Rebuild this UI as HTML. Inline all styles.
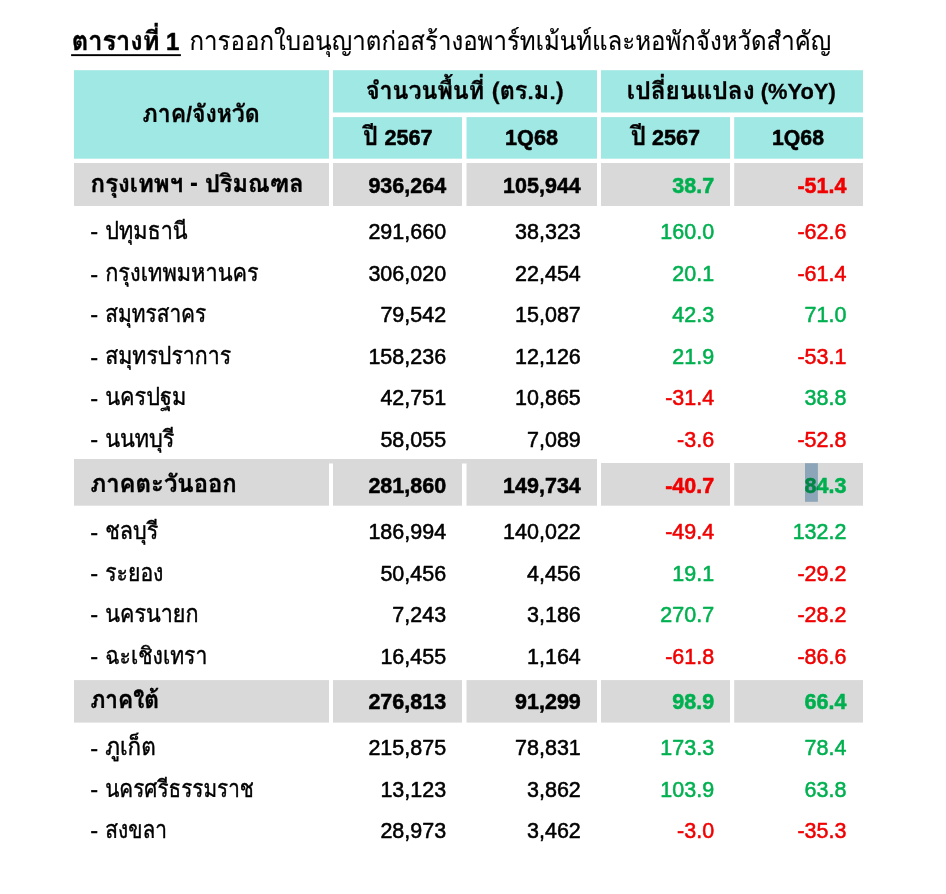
<!DOCTYPE html><html><head><meta charset="utf-8"><style>html,body{margin:0;padding:0;background:#fff}svg{display:block}</style></head><body>
<svg width="946" height="894" viewBox="0 0 946 894">
<rect x="0" y="0" width="946" height="894" fill="#fff"/>
<rect x="74" y="70.2" width="255.00" height="88.50" fill="#a0e8e4"/>
<rect x="333" y="70.2" width="264.00" height="42.30" fill="#a0e8e4"/>
<rect x="601" y="70.2" width="262.00" height="42.30" fill="#a0e8e4"/>
<rect x="333" y="117.1" width="129.00" height="41.60" fill="#a0e8e4"/>
<rect x="466.5" y="117.1" width="130.50" height="41.60" fill="#a0e8e4"/>
<rect x="601" y="117.1" width="129.00" height="41.60" fill="#a0e8e4"/>
<rect x="734.2" y="117.1" width="128.80" height="41.60" fill="#a0e8e4"/>
<rect x="74" y="163" width="255.00" height="43.00" fill="#d9d9d9"/>
<rect x="333" y="163" width="129.00" height="43.00" fill="#d9d9d9"/>
<rect x="466.5" y="163" width="130.50" height="43.00" fill="#d9d9d9"/>
<rect x="601" y="163" width="129.00" height="43.00" fill="#d9d9d9"/>
<rect x="734.2" y="163" width="128.80" height="43.00" fill="#d9d9d9"/>
<rect x="74" y="459" width="255.00" height="46.70" fill="#d9d9d9"/>
<rect x="333" y="459" width="129.00" height="46.70" fill="#d9d9d9"/>
<rect x="466.5" y="459" width="130.50" height="46.70" fill="#d9d9d9"/>
<rect x="601" y="463" width="129.00" height="42.70" fill="#d9d9d9"/>
<rect x="734.2" y="463" width="128.80" height="42.70" fill="#d9d9d9"/>
<rect x="74" y="680.1" width="255.00" height="42.50" fill="#d9d9d9"/>
<rect x="333" y="680.1" width="129.00" height="42.50" fill="#d9d9d9"/>
<rect x="466.5" y="680.1" width="130.50" height="42.50" fill="#d9d9d9"/>
<rect x="601" y="680.1" width="129.00" height="42.50" fill="#d9d9d9"/>
<rect x="734.2" y="680.1" width="128.80" height="42.50" fill="#d9d9d9"/>
<rect x="74" y="459" width="523.00" height="4.50" fill="#d9d9d9"/>
<rect x="71.1" y="54.2" width="109.8" height="1.9" fill="#000"/>
<text transform="translate(71.63,49.9) scale(0.9596,1.0)" x="0" y="0" text-anchor="start" fill="#000" stroke="#000" stroke-width="0.35" stroke-linejoin="round" xml:space="preserve"><tspan font-family="Loma, 'Liberation Sans', sans-serif" font-size="26.5" font-weight="bold">ตารางที่</tspan></text>
<text transform="translate(166.00,50.3) scale(1.0000,1.0)" x="0" y="0" text-anchor="start" fill="#000" stroke="#000" stroke-width="0.5" stroke-linejoin="round" xml:space="preserve"><tspan font-family="'Liberation Sans', sans-serif" font-size="24" font-weight="bold">1</tspan></text>
<text transform="translate(189.57,49.9) scale(0.9247,1.0)" x="0" y="0" text-anchor="start" fill="#000" stroke="#000" stroke-width="0.15" stroke-linejoin="round" xml:space="preserve"><tspan font-family="Loma, 'Liberation Sans', sans-serif" font-size="26">การออกใบอนุญาตก่อสร้างอพาร์ทเม้นท์และหอพักจังหวัดสำคัญ</tspan></text>
<text transform="translate(201.18,122.0) scale(0.9617,1.0)" x="0" y="0" text-anchor="middle" fill="#000" stroke="#000" stroke-width="0.3" stroke-linejoin="round" xml:space="preserve"><tspan font-family="Loma, 'Liberation Sans', sans-serif" font-size="24.0" font-weight="bold">ภาค</tspan><tspan font-family="'Liberation Sans', sans-serif" font-size="21.5" font-weight="bold">/</tspan><tspan font-family="Loma, 'Liberation Sans', sans-serif" font-size="24.0" font-weight="bold">จังหวัด</tspan></text>
<text transform="translate(464.65,98.7) scale(0.9708,1.0)" x="0" y="0" text-anchor="middle" fill="#000" stroke="#000" stroke-width="0.3" stroke-linejoin="round" xml:space="preserve"><tspan font-family="Loma, 'Liberation Sans', sans-serif" font-size="24.0" font-weight="bold">จำนวนพื้นที่ (ตร.ม.)</tspan></text>
<text transform="translate(731.29,98.7) scale(1.0177,1.0)" x="0" y="0" text-anchor="middle" fill="#000" stroke="#000" stroke-width="0.3" stroke-linejoin="round" xml:space="preserve"><tspan font-family="Loma, 'Liberation Sans', sans-serif" font-size="24.0" font-weight="bold">เปลี่ยนแปลง</tspan><tspan font-family="'Liberation Sans', sans-serif" font-size="21.5" font-weight="bold"> (%YoY)</tspan></text>
<text transform="translate(363.08,144.6) scale(0.9159,1.0)" x="0" y="0" text-anchor="start" fill="#000" stroke="#000" stroke-width="0.3" stroke-linejoin="round" xml:space="preserve"><tspan font-family="Loma, 'Liberation Sans', sans-serif" font-size="25.5" font-weight="bold">ปี</tspan></text>
<text transform="translate(384.41,145.4) scale(0.9525,1.0)" x="0" y="0" text-anchor="start" fill="#000" stroke="#000" stroke-width="0.55" stroke-linejoin="round" xml:space="preserve"><tspan font-family="'Liberation Sans', sans-serif" font-size="22.7" font-weight="bold">2567</tspan></text>
<text transform="translate(630.65,144.6) scale(0.9457,1.0)" x="0" y="0" text-anchor="start" fill="#000" stroke="#000" stroke-width="0.3" stroke-linejoin="round" xml:space="preserve"><tspan font-family="Loma, 'Liberation Sans', sans-serif" font-size="25.5" font-weight="bold">ปี</tspan></text>
<text transform="translate(652.02,145.4) scale(0.9512,1.0)" x="0" y="0" text-anchor="start" fill="#000" stroke="#000" stroke-width="0.55" stroke-linejoin="round" xml:space="preserve"><tspan font-family="'Liberation Sans', sans-serif" font-size="22.7" font-weight="bold">2567</tspan></text>
<text transform="translate(531.51,145.3) scale(0.9538,1.0)" x="0" y="0" text-anchor="middle" fill="#000" stroke="#000" stroke-width="0.55" stroke-linejoin="round" xml:space="preserve"><tspan font-family="'Liberation Sans', sans-serif" font-size="22.7" font-weight="bold">1Q68</tspan></text>
<text transform="translate(797.98,145.3) scale(0.9353,1.0)" x="0" y="0" text-anchor="middle" fill="#000" stroke="#000" stroke-width="0.55" stroke-linejoin="round" xml:space="preserve"><tspan font-family="'Liberation Sans', sans-serif" font-size="22.7" font-weight="bold">1Q68</tspan></text>
<text transform="translate(90.60,192.0) scale(0.9936,1.0)" x="0" y="0" text-anchor="start" fill="#000" stroke="#000" stroke-width="0.35" stroke-linejoin="round" xml:space="preserve"><tspan font-family="Loma, 'Liberation Sans', sans-serif" font-size="24.2" font-weight="bold">กรุงเทพฯ</tspan></text>
<text transform="translate(190.00,191.70000000000002) scale(1.1000,1.3)" x="0" y="0" text-anchor="start" fill="#000" xml:space="preserve"><tspan font-family="'Liberation Sans', sans-serif" font-size="21.5" font-weight="bold">-</tspan></text>
<text transform="translate(204.92,192.0) scale(0.9727,1.0)" x="0" y="0" text-anchor="start" fill="#000" stroke="#000" stroke-width="0.35" stroke-linejoin="round" xml:space="preserve"><tspan font-family="Loma, 'Liberation Sans', sans-serif" font-size="24.2" font-weight="bold">ปริมณฑล</tspan></text>
<text transform="translate(446.10,192.8) scale(0.9471,1.0)" x="0" y="0" text-anchor="end" fill="#000" stroke="#000" stroke-width="0.55" stroke-linejoin="round" xml:space="preserve"><tspan font-family="'Liberation Sans', sans-serif" font-size="22.7" font-weight="bold">936,264</tspan></text>
<text transform="translate(580.80,192.8) scale(0.9471,1.0)" x="0" y="0" text-anchor="end" fill="#000" stroke="#000" stroke-width="0.55" stroke-linejoin="round" xml:space="preserve"><tspan font-family="'Liberation Sans', sans-serif" font-size="22.7" font-weight="bold">105,944</tspan></text>
<text transform="translate(714.10,192.8) scale(0.9471,1.0)" x="0" y="0" text-anchor="end" fill="#00b050" stroke="#00b050" stroke-width="0.55" stroke-linejoin="round" xml:space="preserve"><tspan font-family="'Liberation Sans', sans-serif" font-size="22.7" font-weight="bold">38.7</tspan></text>
<text transform="translate(846.40,192.8) scale(0.9471,1.0)" x="0" y="0" text-anchor="end" fill="#f00000" stroke="#f00000" stroke-width="0.55" stroke-linejoin="round" xml:space="preserve"><tspan font-family="'Liberation Sans', sans-serif" font-size="22.7" font-weight="bold">-51.4</tspan></text>
<text transform="translate(90.20,239.0) scale(1.1000,1.15)" x="0" y="0" text-anchor="start" fill="#000" stroke="#000" stroke-width="0.35" stroke-linejoin="round" xml:space="preserve"><tspan font-family="'Liberation Sans', sans-serif" font-size="21.5">-</tspan></text>
<text transform="translate(105.20,238.5) scale(0.9176,1.0)" x="0" y="0" text-anchor="start" fill="#000" stroke="#000" stroke-width="0.4" stroke-linejoin="round" xml:space="preserve"><tspan font-family="Loma, 'Liberation Sans', sans-serif" font-size="23.6">ปทุมธานี</tspan></text>
<text transform="translate(446.10,238.5) scale(0.9471,1.0)" x="0" y="0" text-anchor="end" fill="#000" stroke="#000" stroke-width="0.55" stroke-linejoin="round" xml:space="preserve"><tspan font-family="'Liberation Sans', sans-serif" font-size="22.7">291,660</tspan></text>
<text transform="translate(580.80,238.5) scale(0.9471,1.0)" x="0" y="0" text-anchor="end" fill="#000" stroke="#000" stroke-width="0.55" stroke-linejoin="round" xml:space="preserve"><tspan font-family="'Liberation Sans', sans-serif" font-size="22.7">38,323</tspan></text>
<text transform="translate(714.10,238.5) scale(0.9471,1.0)" x="0" y="0" text-anchor="end" fill="#00b050" stroke="#00b050" stroke-width="0.55" stroke-linejoin="round" xml:space="preserve"><tspan font-family="'Liberation Sans', sans-serif" font-size="22.7">160.0</tspan></text>
<text transform="translate(846.40,238.5) scale(0.9471,1.0)" x="0" y="0" text-anchor="end" fill="#f00000" stroke="#f00000" stroke-width="0.55" stroke-linejoin="round" xml:space="preserve"><tspan font-family="'Liberation Sans', sans-serif" font-size="22.7">-62.6</tspan></text>
<text transform="translate(90.20,281.5) scale(1.1000,1.15)" x="0" y="0" text-anchor="start" fill="#000" stroke="#000" stroke-width="0.35" stroke-linejoin="round" xml:space="preserve"><tspan font-family="'Liberation Sans', sans-serif" font-size="21.5">-</tspan></text>
<text transform="translate(105.20,281.0) scale(0.9222,1.0)" x="0" y="0" text-anchor="start" fill="#000" stroke="#000" stroke-width="0.4" stroke-linejoin="round" xml:space="preserve"><tspan font-family="Loma, 'Liberation Sans', sans-serif" font-size="23.6">กรุงเทพมหานคร</tspan></text>
<text transform="translate(446.10,281.0) scale(0.9471,1.0)" x="0" y="0" text-anchor="end" fill="#000" stroke="#000" stroke-width="0.55" stroke-linejoin="round" xml:space="preserve"><tspan font-family="'Liberation Sans', sans-serif" font-size="22.7">306,020</tspan></text>
<text transform="translate(580.80,281.0) scale(0.9471,1.0)" x="0" y="0" text-anchor="end" fill="#000" stroke="#000" stroke-width="0.55" stroke-linejoin="round" xml:space="preserve"><tspan font-family="'Liberation Sans', sans-serif" font-size="22.7">22,454</tspan></text>
<text transform="translate(714.10,281.0) scale(0.9471,1.0)" x="0" y="0" text-anchor="end" fill="#00b050" stroke="#00b050" stroke-width="0.55" stroke-linejoin="round" xml:space="preserve"><tspan font-family="'Liberation Sans', sans-serif" font-size="22.7">20.1</tspan></text>
<text transform="translate(846.40,281.0) scale(0.9471,1.0)" x="0" y="0" text-anchor="end" fill="#f00000" stroke="#f00000" stroke-width="0.55" stroke-linejoin="round" xml:space="preserve"><tspan font-family="'Liberation Sans', sans-serif" font-size="22.7">-61.4</tspan></text>
<text transform="translate(90.20,322.2) scale(1.1000,1.15)" x="0" y="0" text-anchor="start" fill="#000" stroke="#000" stroke-width="0.35" stroke-linejoin="round" xml:space="preserve"><tspan font-family="'Liberation Sans', sans-serif" font-size="21.5">-</tspan></text>
<text transform="translate(105.20,321.7) scale(0.8849,1.0)" x="0" y="0" text-anchor="start" fill="#000" stroke="#000" stroke-width="0.4" stroke-linejoin="round" xml:space="preserve"><tspan font-family="Loma, 'Liberation Sans', sans-serif" font-size="23.6">สมุทรสาคร</tspan></text>
<text transform="translate(446.10,321.7) scale(0.9471,1.0)" x="0" y="0" text-anchor="end" fill="#000" stroke="#000" stroke-width="0.55" stroke-linejoin="round" xml:space="preserve"><tspan font-family="'Liberation Sans', sans-serif" font-size="22.7">79,542</tspan></text>
<text transform="translate(580.80,321.7) scale(0.9471,1.0)" x="0" y="0" text-anchor="end" fill="#000" stroke="#000" stroke-width="0.55" stroke-linejoin="round" xml:space="preserve"><tspan font-family="'Liberation Sans', sans-serif" font-size="22.7">15,087</tspan></text>
<text transform="translate(714.10,321.7) scale(0.9471,1.0)" x="0" y="0" text-anchor="end" fill="#00b050" stroke="#00b050" stroke-width="0.55" stroke-linejoin="round" xml:space="preserve"><tspan font-family="'Liberation Sans', sans-serif" font-size="22.7">42.3</tspan></text>
<text transform="translate(846.40,321.7) scale(0.9471,1.0)" x="0" y="0" text-anchor="end" fill="#00b050" stroke="#00b050" stroke-width="0.55" stroke-linejoin="round" xml:space="preserve"><tspan font-family="'Liberation Sans', sans-serif" font-size="22.7">71.0</tspan></text>
<text transform="translate(90.20,364.5) scale(1.1000,1.15)" x="0" y="0" text-anchor="start" fill="#000" stroke="#000" stroke-width="0.35" stroke-linejoin="round" xml:space="preserve"><tspan font-family="'Liberation Sans', sans-serif" font-size="21.5">-</tspan></text>
<text transform="translate(105.20,364.0) scale(0.9049,1.0)" x="0" y="0" text-anchor="start" fill="#000" stroke="#000" stroke-width="0.4" stroke-linejoin="round" xml:space="preserve"><tspan font-family="Loma, 'Liberation Sans', sans-serif" font-size="23.6">สมุทรปราการ</tspan></text>
<text transform="translate(446.10,364.0) scale(0.9471,1.0)" x="0" y="0" text-anchor="end" fill="#000" stroke="#000" stroke-width="0.55" stroke-linejoin="round" xml:space="preserve"><tspan font-family="'Liberation Sans', sans-serif" font-size="22.7">158,236</tspan></text>
<text transform="translate(580.80,364.0) scale(0.9471,1.0)" x="0" y="0" text-anchor="end" fill="#000" stroke="#000" stroke-width="0.55" stroke-linejoin="round" xml:space="preserve"><tspan font-family="'Liberation Sans', sans-serif" font-size="22.7">12,126</tspan></text>
<text transform="translate(714.10,364.0) scale(0.9471,1.0)" x="0" y="0" text-anchor="end" fill="#00b050" stroke="#00b050" stroke-width="0.55" stroke-linejoin="round" xml:space="preserve"><tspan font-family="'Liberation Sans', sans-serif" font-size="22.7">21.9</tspan></text>
<text transform="translate(846.40,364.0) scale(0.9471,1.0)" x="0" y="0" text-anchor="end" fill="#f00000" stroke="#f00000" stroke-width="0.55" stroke-linejoin="round" xml:space="preserve"><tspan font-family="'Liberation Sans', sans-serif" font-size="22.7">-53.1</tspan></text>
<text transform="translate(90.20,405.8) scale(1.1000,1.15)" x="0" y="0" text-anchor="start" fill="#000" stroke="#000" stroke-width="0.35" stroke-linejoin="round" xml:space="preserve"><tspan font-family="'Liberation Sans', sans-serif" font-size="21.5">-</tspan></text>
<text transform="translate(105.20,405.3) scale(0.9208,1.0)" x="0" y="0" text-anchor="start" fill="#000" stroke="#000" stroke-width="0.4" stroke-linejoin="round" xml:space="preserve"><tspan font-family="Loma, 'Liberation Sans', sans-serif" font-size="23.6">นครปฐม</tspan></text>
<text transform="translate(446.10,405.3) scale(0.9471,1.0)" x="0" y="0" text-anchor="end" fill="#000" stroke="#000" stroke-width="0.55" stroke-linejoin="round" xml:space="preserve"><tspan font-family="'Liberation Sans', sans-serif" font-size="22.7">42,751</tspan></text>
<text transform="translate(580.80,405.3) scale(0.9471,1.0)" x="0" y="0" text-anchor="end" fill="#000" stroke="#000" stroke-width="0.55" stroke-linejoin="round" xml:space="preserve"><tspan font-family="'Liberation Sans', sans-serif" font-size="22.7">10,865</tspan></text>
<text transform="translate(714.10,405.3) scale(0.9471,1.0)" x="0" y="0" text-anchor="end" fill="#f00000" stroke="#f00000" stroke-width="0.55" stroke-linejoin="round" xml:space="preserve"><tspan font-family="'Liberation Sans', sans-serif" font-size="22.7">-31.4</tspan></text>
<text transform="translate(846.40,405.3) scale(0.9471,1.0)" x="0" y="0" text-anchor="end" fill="#00b050" stroke="#00b050" stroke-width="0.55" stroke-linejoin="round" xml:space="preserve"><tspan font-family="'Liberation Sans', sans-serif" font-size="22.7">38.8</tspan></text>
<text transform="translate(90.20,447.0) scale(1.1000,1.15)" x="0" y="0" text-anchor="start" fill="#000" stroke="#000" stroke-width="0.35" stroke-linejoin="round" xml:space="preserve"><tspan font-family="'Liberation Sans', sans-serif" font-size="21.5">-</tspan></text>
<text transform="translate(105.20,446.5) scale(0.9185,1.0)" x="0" y="0" text-anchor="start" fill="#000" stroke="#000" stroke-width="0.4" stroke-linejoin="round" xml:space="preserve"><tspan font-family="Loma, 'Liberation Sans', sans-serif" font-size="23.6">นนทบุรี</tspan></text>
<text transform="translate(446.10,446.5) scale(0.9471,1.0)" x="0" y="0" text-anchor="end" fill="#000" stroke="#000" stroke-width="0.55" stroke-linejoin="round" xml:space="preserve"><tspan font-family="'Liberation Sans', sans-serif" font-size="22.7">58,055</tspan></text>
<text transform="translate(580.80,446.5) scale(0.9471,1.0)" x="0" y="0" text-anchor="end" fill="#000" stroke="#000" stroke-width="0.55" stroke-linejoin="round" xml:space="preserve"><tspan font-family="'Liberation Sans', sans-serif" font-size="22.7">7,089</tspan></text>
<text transform="translate(714.10,446.5) scale(0.9471,1.0)" x="0" y="0" text-anchor="end" fill="#f00000" stroke="#f00000" stroke-width="0.55" stroke-linejoin="round" xml:space="preserve"><tspan font-family="'Liberation Sans', sans-serif" font-size="22.7">-3.6</tspan></text>
<text transform="translate(846.40,446.5) scale(0.9471,1.0)" x="0" y="0" text-anchor="end" fill="#f00000" stroke="#f00000" stroke-width="0.55" stroke-linejoin="round" xml:space="preserve"><tspan font-family="'Liberation Sans', sans-serif" font-size="22.7">-52.8</tspan></text>
<text transform="translate(90.40,492.0) scale(0.9877,1.0)" x="0" y="0" text-anchor="start" fill="#000" stroke="#000" stroke-width="0.35" stroke-linejoin="round" xml:space="preserve"><tspan font-family="Loma, 'Liberation Sans', sans-serif" font-size="24.2" font-weight="bold">ภาคตะวันออก</tspan></text>
<text transform="translate(446.10,492.8) scale(0.9471,1.0)" x="0" y="0" text-anchor="end" fill="#000" stroke="#000" stroke-width="0.55" stroke-linejoin="round" xml:space="preserve"><tspan font-family="'Liberation Sans', sans-serif" font-size="22.7" font-weight="bold">281,860</tspan></text>
<text transform="translate(580.80,492.8) scale(0.9471,1.0)" x="0" y="0" text-anchor="end" fill="#000" stroke="#000" stroke-width="0.55" stroke-linejoin="round" xml:space="preserve"><tspan font-family="'Liberation Sans', sans-serif" font-size="22.7" font-weight="bold">149,734</tspan></text>
<text transform="translate(714.10,492.8) scale(0.9471,1.0)" x="0" y="0" text-anchor="end" fill="#f00000" stroke="#f00000" stroke-width="0.55" stroke-linejoin="round" xml:space="preserve"><tspan font-family="'Liberation Sans', sans-serif" font-size="22.7" font-weight="bold">-40.7</tspan></text>
<text transform="translate(846.40,492.8) scale(0.9471,1.0)" x="0" y="0" text-anchor="end" fill="#00b050" stroke="#00b050" stroke-width="0.55" stroke-linejoin="round" xml:space="preserve"><tspan font-family="'Liberation Sans', sans-serif" font-size="22.7" font-weight="bold">84.3</tspan></text>
<text transform="translate(90.20,539.5) scale(1.1000,1.15)" x="0" y="0" text-anchor="start" fill="#000" stroke="#000" stroke-width="0.35" stroke-linejoin="round" xml:space="preserve"><tspan font-family="'Liberation Sans', sans-serif" font-size="21.5">-</tspan></text>
<text transform="translate(105.20,539.0) scale(0.9135,1.0)" x="0" y="0" text-anchor="start" fill="#000" stroke="#000" stroke-width="0.4" stroke-linejoin="round" xml:space="preserve"><tspan font-family="Loma, 'Liberation Sans', sans-serif" font-size="23.6">ชลบุรี</tspan></text>
<text transform="translate(446.10,539.0) scale(0.9471,1.0)" x="0" y="0" text-anchor="end" fill="#000" stroke="#000" stroke-width="0.55" stroke-linejoin="round" xml:space="preserve"><tspan font-family="'Liberation Sans', sans-serif" font-size="22.7">186,994</tspan></text>
<text transform="translate(580.80,539.0) scale(0.9471,1.0)" x="0" y="0" text-anchor="end" fill="#000" stroke="#000" stroke-width="0.55" stroke-linejoin="round" xml:space="preserve"><tspan font-family="'Liberation Sans', sans-serif" font-size="22.7">140,022</tspan></text>
<text transform="translate(714.10,539.0) scale(0.9471,1.0)" x="0" y="0" text-anchor="end" fill="#f00000" stroke="#f00000" stroke-width="0.55" stroke-linejoin="round" xml:space="preserve"><tspan font-family="'Liberation Sans', sans-serif" font-size="22.7">-49.4</tspan></text>
<text transform="translate(846.40,539.0) scale(0.9471,1.0)" x="0" y="0" text-anchor="end" fill="#00b050" stroke="#00b050" stroke-width="0.55" stroke-linejoin="round" xml:space="preserve"><tspan font-family="'Liberation Sans', sans-serif" font-size="22.7">132.2</tspan></text>
<text transform="translate(90.20,581.0) scale(1.1000,1.15)" x="0" y="0" text-anchor="start" fill="#000" stroke="#000" stroke-width="0.35" stroke-linejoin="round" xml:space="preserve"><tspan font-family="'Liberation Sans', sans-serif" font-size="21.5">-</tspan></text>
<text transform="translate(105.20,580.5) scale(0.8982,1.0)" x="0" y="0" text-anchor="start" fill="#000" stroke="#000" stroke-width="0.4" stroke-linejoin="round" xml:space="preserve"><tspan font-family="Loma, 'Liberation Sans', sans-serif" font-size="23.6">ระยอง</tspan></text>
<text transform="translate(446.10,580.5) scale(0.9471,1.0)" x="0" y="0" text-anchor="end" fill="#000" stroke="#000" stroke-width="0.55" stroke-linejoin="round" xml:space="preserve"><tspan font-family="'Liberation Sans', sans-serif" font-size="22.7">50,456</tspan></text>
<text transform="translate(580.80,580.5) scale(0.9471,1.0)" x="0" y="0" text-anchor="end" fill="#000" stroke="#000" stroke-width="0.55" stroke-linejoin="round" xml:space="preserve"><tspan font-family="'Liberation Sans', sans-serif" font-size="22.7">4,456</tspan></text>
<text transform="translate(714.10,580.5) scale(0.9471,1.0)" x="0" y="0" text-anchor="end" fill="#00b050" stroke="#00b050" stroke-width="0.55" stroke-linejoin="round" xml:space="preserve"><tspan font-family="'Liberation Sans', sans-serif" font-size="22.7">19.1</tspan></text>
<text transform="translate(846.40,580.5) scale(0.9471,1.0)" x="0" y="0" text-anchor="end" fill="#f00000" stroke="#f00000" stroke-width="0.55" stroke-linejoin="round" xml:space="preserve"><tspan font-family="'Liberation Sans', sans-serif" font-size="22.7">-29.2</tspan></text>
<text transform="translate(90.20,622.4) scale(1.1000,1.15)" x="0" y="0" text-anchor="start" fill="#000" stroke="#000" stroke-width="0.35" stroke-linejoin="round" xml:space="preserve"><tspan font-family="'Liberation Sans', sans-serif" font-size="21.5">-</tspan></text>
<text transform="translate(105.20,621.9) scale(0.9147,1.0)" x="0" y="0" text-anchor="start" fill="#000" stroke="#000" stroke-width="0.4" stroke-linejoin="round" xml:space="preserve"><tspan font-family="Loma, 'Liberation Sans', sans-serif" font-size="23.6">นครนายก</tspan></text>
<text transform="translate(446.10,621.9) scale(0.9471,1.0)" x="0" y="0" text-anchor="end" fill="#000" stroke="#000" stroke-width="0.55" stroke-linejoin="round" xml:space="preserve"><tspan font-family="'Liberation Sans', sans-serif" font-size="22.7">7,243</tspan></text>
<text transform="translate(580.80,621.9) scale(0.9471,1.0)" x="0" y="0" text-anchor="end" fill="#000" stroke="#000" stroke-width="0.55" stroke-linejoin="round" xml:space="preserve"><tspan font-family="'Liberation Sans', sans-serif" font-size="22.7">3,186</tspan></text>
<text transform="translate(714.10,621.9) scale(0.9471,1.0)" x="0" y="0" text-anchor="end" fill="#00b050" stroke="#00b050" stroke-width="0.55" stroke-linejoin="round" xml:space="preserve"><tspan font-family="'Liberation Sans', sans-serif" font-size="22.7">270.7</tspan></text>
<text transform="translate(846.40,621.9) scale(0.9471,1.0)" x="0" y="0" text-anchor="end" fill="#f00000" stroke="#f00000" stroke-width="0.55" stroke-linejoin="round" xml:space="preserve"><tspan font-family="'Liberation Sans', sans-serif" font-size="22.7">-28.2</tspan></text>
<text transform="translate(90.20,664.0) scale(1.1000,1.15)" x="0" y="0" text-anchor="start" fill="#000" stroke="#000" stroke-width="0.35" stroke-linejoin="round" xml:space="preserve"><tspan font-family="'Liberation Sans', sans-serif" font-size="21.5">-</tspan></text>
<text transform="translate(105.20,663.5) scale(0.8972,1.0)" x="0" y="0" text-anchor="start" fill="#000" stroke="#000" stroke-width="0.4" stroke-linejoin="round" xml:space="preserve"><tspan font-family="Loma, 'Liberation Sans', sans-serif" font-size="23.6">ฉะเชิงเทรา</tspan></text>
<text transform="translate(446.10,663.5) scale(0.9471,1.0)" x="0" y="0" text-anchor="end" fill="#000" stroke="#000" stroke-width="0.55" stroke-linejoin="round" xml:space="preserve"><tspan font-family="'Liberation Sans', sans-serif" font-size="22.7">16,455</tspan></text>
<text transform="translate(580.80,663.5) scale(0.9471,1.0)" x="0" y="0" text-anchor="end" fill="#000" stroke="#000" stroke-width="0.55" stroke-linejoin="round" xml:space="preserve"><tspan font-family="'Liberation Sans', sans-serif" font-size="22.7">1,164</tspan></text>
<text transform="translate(714.10,663.5) scale(0.9471,1.0)" x="0" y="0" text-anchor="end" fill="#f00000" stroke="#f00000" stroke-width="0.55" stroke-linejoin="round" xml:space="preserve"><tspan font-family="'Liberation Sans', sans-serif" font-size="22.7">-61.8</tspan></text>
<text transform="translate(846.40,663.5) scale(0.9471,1.0)" x="0" y="0" text-anchor="end" fill="#f00000" stroke="#f00000" stroke-width="0.55" stroke-linejoin="round" xml:space="preserve"><tspan font-family="'Liberation Sans', sans-serif" font-size="22.7">-86.6</tspan></text>
<text transform="translate(90.40,707.8000000000001) scale(0.9381,1.0)" x="0" y="0" text-anchor="start" fill="#000" stroke="#000" stroke-width="0.35" stroke-linejoin="round" xml:space="preserve"><tspan font-family="Loma, 'Liberation Sans', sans-serif" font-size="24.2" font-weight="bold">ภาคใต้</tspan></text>
<text transform="translate(446.10,708.6) scale(0.9471,1.0)" x="0" y="0" text-anchor="end" fill="#000" stroke="#000" stroke-width="0.55" stroke-linejoin="round" xml:space="preserve"><tspan font-family="'Liberation Sans', sans-serif" font-size="22.7" font-weight="bold">276,813</tspan></text>
<text transform="translate(580.80,708.6) scale(0.9471,1.0)" x="0" y="0" text-anchor="end" fill="#000" stroke="#000" stroke-width="0.55" stroke-linejoin="round" xml:space="preserve"><tspan font-family="'Liberation Sans', sans-serif" font-size="22.7" font-weight="bold">91,299</tspan></text>
<text transform="translate(714.10,708.6) scale(0.9471,1.0)" x="0" y="0" text-anchor="end" fill="#00b050" stroke="#00b050" stroke-width="0.55" stroke-linejoin="round" xml:space="preserve"><tspan font-family="'Liberation Sans', sans-serif" font-size="22.7" font-weight="bold">98.9</tspan></text>
<text transform="translate(846.40,708.6) scale(0.9471,1.0)" x="0" y="0" text-anchor="end" fill="#00b050" stroke="#00b050" stroke-width="0.55" stroke-linejoin="round" xml:space="preserve"><tspan font-family="'Liberation Sans', sans-serif" font-size="22.7" font-weight="bold">66.4</tspan></text>
<text transform="translate(90.20,755.8) scale(1.1000,1.15)" x="0" y="0" text-anchor="start" fill="#000" stroke="#000" stroke-width="0.35" stroke-linejoin="round" xml:space="preserve"><tspan font-family="'Liberation Sans', sans-serif" font-size="21.5">-</tspan></text>
<text transform="translate(105.20,755.3) scale(0.9499,1.0)" x="0" y="0" text-anchor="start" fill="#000" stroke="#000" stroke-width="0.4" stroke-linejoin="round" xml:space="preserve"><tspan font-family="Loma, 'Liberation Sans', sans-serif" font-size="23.6">ภูเก็ต</tspan></text>
<text transform="translate(446.10,755.3) scale(0.9471,1.0)" x="0" y="0" text-anchor="end" fill="#000" stroke="#000" stroke-width="0.55" stroke-linejoin="round" xml:space="preserve"><tspan font-family="'Liberation Sans', sans-serif" font-size="22.7">215,875</tspan></text>
<text transform="translate(580.80,755.3) scale(0.9471,1.0)" x="0" y="0" text-anchor="end" fill="#000" stroke="#000" stroke-width="0.55" stroke-linejoin="round" xml:space="preserve"><tspan font-family="'Liberation Sans', sans-serif" font-size="22.7">78,831</tspan></text>
<text transform="translate(714.10,755.3) scale(0.9471,1.0)" x="0" y="0" text-anchor="end" fill="#00b050" stroke="#00b050" stroke-width="0.55" stroke-linejoin="round" xml:space="preserve"><tspan font-family="'Liberation Sans', sans-serif" font-size="22.7">173.3</tspan></text>
<text transform="translate(846.40,755.3) scale(0.9471,1.0)" x="0" y="0" text-anchor="end" fill="#00b050" stroke="#00b050" stroke-width="0.55" stroke-linejoin="round" xml:space="preserve"><tspan font-family="'Liberation Sans', sans-serif" font-size="22.7">78.4</tspan></text>
<text transform="translate(90.20,797.1) scale(1.1000,1.15)" x="0" y="0" text-anchor="start" fill="#000" stroke="#000" stroke-width="0.35" stroke-linejoin="round" xml:space="preserve"><tspan font-family="'Liberation Sans', sans-serif" font-size="21.5">-</tspan></text>
<text transform="translate(105.20,796.6) scale(0.8774,1.0)" x="0" y="0" text-anchor="start" fill="#000" stroke="#000" stroke-width="0.4" stroke-linejoin="round" xml:space="preserve"><tspan font-family="Loma, 'Liberation Sans', sans-serif" font-size="23.6">นครศรีธรรมราช</tspan></text>
<text transform="translate(446.10,796.6) scale(0.9471,1.0)" x="0" y="0" text-anchor="end" fill="#000" stroke="#000" stroke-width="0.55" stroke-linejoin="round" xml:space="preserve"><tspan font-family="'Liberation Sans', sans-serif" font-size="22.7">13,123</tspan></text>
<text transform="translate(580.80,796.6) scale(0.9471,1.0)" x="0" y="0" text-anchor="end" fill="#000" stroke="#000" stroke-width="0.55" stroke-linejoin="round" xml:space="preserve"><tspan font-family="'Liberation Sans', sans-serif" font-size="22.7">3,862</tspan></text>
<text transform="translate(714.10,796.6) scale(0.9471,1.0)" x="0" y="0" text-anchor="end" fill="#00b050" stroke="#00b050" stroke-width="0.55" stroke-linejoin="round" xml:space="preserve"><tspan font-family="'Liberation Sans', sans-serif" font-size="22.7">103.9</tspan></text>
<text transform="translate(846.40,796.6) scale(0.9471,1.0)" x="0" y="0" text-anchor="end" fill="#00b050" stroke="#00b050" stroke-width="0.55" stroke-linejoin="round" xml:space="preserve"><tspan font-family="'Liberation Sans', sans-serif" font-size="22.7">63.8</tspan></text>
<text transform="translate(90.20,838.4) scale(1.1000,1.15)" x="0" y="0" text-anchor="start" fill="#000" stroke="#000" stroke-width="0.35" stroke-linejoin="round" xml:space="preserve"><tspan font-family="'Liberation Sans', sans-serif" font-size="21.5">-</tspan></text>
<text transform="translate(105.20,837.9) scale(0.8864,1.0)" x="0" y="0" text-anchor="start" fill="#000" stroke="#000" stroke-width="0.4" stroke-linejoin="round" xml:space="preserve"><tspan font-family="Loma, 'Liberation Sans', sans-serif" font-size="23.6">สงขลา</tspan></text>
<text transform="translate(446.10,837.9) scale(0.9471,1.0)" x="0" y="0" text-anchor="end" fill="#000" stroke="#000" stroke-width="0.55" stroke-linejoin="round" xml:space="preserve"><tspan font-family="'Liberation Sans', sans-serif" font-size="22.7">28,973</tspan></text>
<text transform="translate(580.80,837.9) scale(0.9471,1.0)" x="0" y="0" text-anchor="end" fill="#000" stroke="#000" stroke-width="0.55" stroke-linejoin="round" xml:space="preserve"><tspan font-family="'Liberation Sans', sans-serif" font-size="22.7">3,462</tspan></text>
<text transform="translate(714.10,837.9) scale(0.9471,1.0)" x="0" y="0" text-anchor="end" fill="#f00000" stroke="#f00000" stroke-width="0.55" stroke-linejoin="round" xml:space="preserve"><tspan font-family="'Liberation Sans', sans-serif" font-size="22.7">-3.0</tspan></text>
<text transform="translate(846.40,837.9) scale(0.9471,1.0)" x="0" y="0" text-anchor="end" fill="#f00000" stroke="#f00000" stroke-width="0.55" stroke-linejoin="round" xml:space="preserve"><tspan font-family="'Liberation Sans', sans-serif" font-size="22.7">-35.3</tspan></text>
<rect x="805.0" y="463.2" width="12.90" height="38.60" fill="#a5c2da" style="mix-blend-mode:multiply"/>
</svg>
</body></html>
